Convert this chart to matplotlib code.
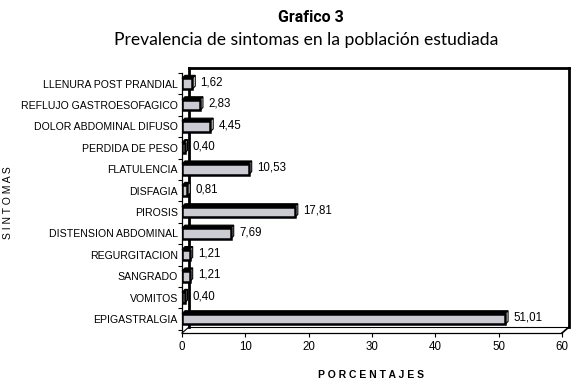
import matplotlib
matplotlib.use("Agg")

import matplotlib.pyplot as plt
from matplotlib import font_manager
from matplotlib.patches import Polygon
import numpy as np

# =========================================================
# DATA
# =========================================================

categories = [
    "EPIGASTRALGIA",
    "VOMITOS",
    "SANGRADO",
    "REGURGITACION",
    "DISTENSION ABDOMINAL",
    "PIROSIS",
    "DISFAGIA",
    "FLATULENCIA",
    "PERDIDA DE PESO",
    "DOLOR ABDOMINAL DIFUSO",
    "REFLUJO GASTROESOFAGICO",
    "LLENURA POST PRANDIAL",
]

values = [51.01, 0.40, 1.21, 1.21, 7.69, 17.81, 0.81, 10.53, 0.40, 4.45, 2.83, 1.62]

value_labels = [f"{v:.2f}".replace(".", ",") for v in values]

x_ticks = [0, 10, 20, 30, 40, 50, 60]

TITLE = "Grafico 3"
SUBTITLE = "Prevalencia de sintomas en la población estudiada"
X_LABEL = "PORCENTAJES"
Y_LABEL = "SINTOMAS"

# =========================================================
# FONTS
# =========================================================

installed = {f.name for f in font_manager.fontManager.ttflist}


def pick(*names):
    for name in names:
        if name in installed:
            return name
    return "DejaVu Sans"


label_font = pick("Liberation Sans", "Arial")
title_font = pick("Liberation Sans Narrow", "Roboto", "Liberation Sans")
subtitle_font = pick("Lato", "Open Sans", "Liberation Sans")

# =========================================================
# FIGURE
# =========================================================

W, H = 573, 384

fig = plt.figure(figsize=(W / 100, H / 100), dpi=100)
fig.patch.set_facecolor("white")

ax = fig.add_axes([182 / W, 1 - 333 / H, 380 / W, 260 / H])

y_lo, y_hi = -0.65, 11.47
ax.set_xlim(0, 60)
ax.set_ylim(y_lo, y_hi)

px_x = 380 / 60
px_y = 260 / (y_hi - y_lo)

# bar depth and box depth, in data units
dx, dy = 3 / px_x, 3 / px_y
bdx, bdy = 7 / px_x, 6 / px_y

# ---------------------------------
# back walls / floor
# ---------------------------------

wall = dict(color="black", clip_on=False, solid_capstyle="projecting")

ax.plot([bdx, bdx], [y_lo + bdy, y_hi + bdy], lw=2.0, zorder=2, **wall)
ax.plot([bdx, 60 + bdx], [y_hi + bdy, y_hi + bdy], lw=2.0, zorder=2, **wall)
ax.plot([60 + bdx, 60 + bdx], [y_hi + bdy, y_lo + bdy], lw=2.0, zorder=2, **wall)
ax.plot([bdx, 60 + bdx], [y_lo + bdy, y_lo + bdy], lw=0.8, zorder=2, **wall)
ax.plot([0, bdx], [y_lo, y_lo + bdy], lw=0.8, zorder=2, **wall)
ax.plot([60, 60 + bdx], [y_lo, y_lo + bdy], lw=1.2, zorder=2, **wall)

# ---------------------------------
# 3D bars
# ---------------------------------

bar_h = 0.5
ypos = np.arange(len(categories))

bars = ax.barh(
    ypos,
    values,
    height=bar_h,
    color="#cacbd3",
    edgecolor="black",
    linewidth=1.8,
    zorder=4,
)

for y, v in zip(ypos, values):
    top = y + bar_h / 2
    bot = y - bar_h / 2

    ax.add_patch(Polygon(
        [(0, top), (v, top), (v + dx, top + dy), (dx, top + dy)],
        closed=True, facecolor="black", edgecolor="black",
        linewidth=0.8, zorder=3, clip_on=False
    ))

    ax.add_patch(Polygon(
        [(v, bot), (v + dx, bot + dy), (v + dx, top + dy), (v, top)],
        closed=True, facecolor="white", edgecolor="black",
        linewidth=0.8, zorder=3, clip_on=False
    ))

for y, v, lab in zip(ypos, values, value_labels):
    ax.annotate(
        lab,
        xy=(v, y),
        xytext=(6, 1),
        textcoords="offset points",
        ha="left",
        va="center",
        fontsize=8.3,
        family=label_font,
        zorder=5,
    )

# ---------------------------------
# axes
# ---------------------------------

for side in ("top", "right"):
    ax.spines[side].set_visible(False)

ax.spines["left"].set_linewidth(0.9)
ax.spines["bottom"].set_linewidth(0.9)

ax.set_xticks(x_ticks)
ax.set_xticklabels([str(t) for t in x_ticks], family=label_font, fontsize=8.3)

ax.set_yticks(ypos)
ax.set_yticklabels(categories, family=label_font, fontsize=7.6)
ax.set_yticks(np.arange(-0.5, len(categories)), minor=True)

ax.tick_params(axis="x", direction="out", length=3, width=0.8, pad=3)
ax.tick_params(axis="y", which="major", length=0, pad=3)
ax.tick_params(axis="y", which="minor", direction="out", length=3, width=0.8)

# =========================================================
# TEXT
# =========================================================

fig.text(311 / W, 1 - 17 / H, TITLE, ha="center", va="center",
         fontsize=11.5, fontweight="bold", family=title_font)

fig.text(306 / W, 1 - 40 / H, SUBTITLE, ha="center", va="center",
         fontsize=12.6, family=subtitle_font)

fig.text(371 / W, 1 - 375 / H, " ".join(X_LABEL), ha="center", va="center",
         fontsize=7.5, fontweight="bold", family=label_font)

fig.text(8 / W, 1 - 203 / H, " ".join(Y_LABEL), ha="center", va="center",
         rotation=90, fontsize=7.5, family=label_font)

fig.savefig("out.png", dpi=100)
